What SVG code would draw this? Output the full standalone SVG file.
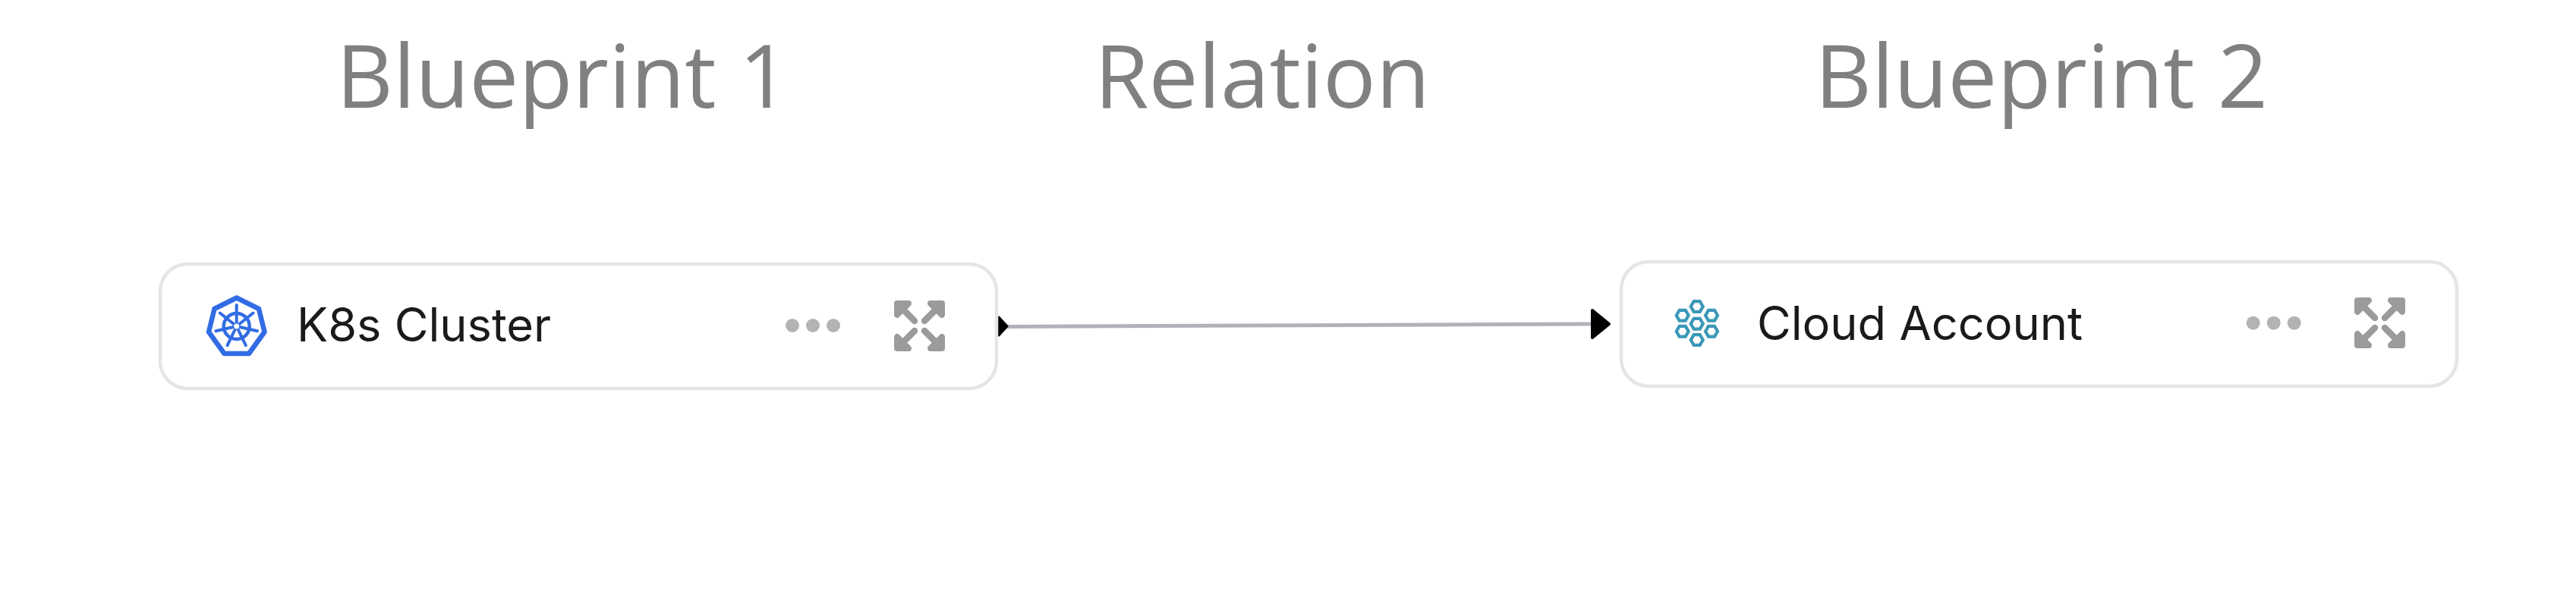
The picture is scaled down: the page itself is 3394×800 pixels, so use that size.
<svg xmlns="http://www.w3.org/2000/svg" xmlns:xlink="http://www.w3.org/1999/xlink" width="3394" height="800" viewBox="0 0 3394 800">
<style>
.title{font-family:"Open Sans","Noto Sans",sans-serif;font-size:116px;fill:#808080}
.label{font-family:Inter,"Liberation Sans",sans-serif;font-size:61.3px;font-weight:430;fill:#1a1a1a}
.box{fill:#fff;stroke:#e5e5e5;stroke-width:4.5}
.dot{fill:#b3b3b3}
.exp{fill:none;stroke:#9b9b9b;stroke-width:8.5;stroke-linecap:round}
.hex{fill:none;stroke:#3a98b8;stroke-width:4.2}
.k{fill:none;stroke:#326ce5;stroke-linecap:round}
</style>
<defs>
<g id="more"><circle cx="-27" r="9" class="dot"/><circle r="9" class="dot"/><circle cx="27" r="9" class="dot"/></g>
<g id="expand">
<path class="exp" d="M6 6L27 27M61 6L40 27M6 61L27 40M61 61L40 40"/>
<path d="M4 4H19L4 19ZM63 4H48L63 19ZM4 63H19L4 48ZM63 63H48L63 48Z" fill="#9b9b9b" stroke="#9b9b9b" stroke-width="8" stroke-linejoin="round"/>
</g>
<path id="h" class="hex" d="M-8 0L-4-6.9H4L8 0L4 6.9H-4Z"/>
</defs>
<rect width="3394" height="800" fill="#fff"/>
<text class="title" x="443" y="142">Blueprint 1</text>
<text class="title" x="1442" y="142">Relation</text>
<text class="title" x="2391" y="142">Blueprint 2</text>
<g id="connectors">
<path d="M1326 430.5L2098 427" fill="none" stroke="#b1b1b7" stroke-width="5"/>
<path d="M1316 418L1327 430L1316 442Z" fill="#000" stroke="#000" stroke-width="3" stroke-linejoin="round"/>
<path d="M2098 409L2120 427L2098 445Z" fill="#000" stroke="#000" stroke-width="4" stroke-linejoin="round"/>
</g>
<g id="node-k8s">
<rect class="box" x="211" y="348" width="1102" height="164" rx="36"/>
<path d="M311.7 392.5L341 407L348.5 437.5L328 466H295.5L275 437.5L282.5 407Z" fill="none" stroke="#326ce5" stroke-width="6.5" stroke-linejoin="round"/>
<g class="k">
<circle cx="311.7" cy="430" r="17" stroke-width="4.5"/>
<path stroke-width="4" d="M311.7 430V402M311.7 430L333.6 412.5M311.7 430L339 436.2M311.7 430L323.8 455.2M311.7 430L299.6 455.2M311.7 430L284.4 436.2M311.7 430L289.8 412.5"/>
</g>
<circle cx="311.7" cy="430" r="3.5" fill="#fff"/>
<text class="label" x="391" y="450">K8s Cluster</text>
<use href="#more" x="1071" y="429"/>
<use href="#expand" x="1178" y="396"/>
</g>
<g id="node-cloud">
<rect class="box" x="2136" y="345" width="1101" height="164" rx="36"/>
<use href="#h" x="2235.7" y="426.7"/>
<use href="#h" x="2235.7" y="404"/>
<use href="#h" x="2235.7" y="448"/>
<use href="#h" x="2216.7" y="415.7"/>
<use href="#h" x="2255" y="415.7"/>
<use href="#h" x="2216.7" y="436.7"/>
<use href="#h" x="2255" y="436.7"/>
<text class="label" x="2315" y="448">Cloud Account</text>
<use href="#more" x="2995.7" y="425.7"/>
<use href="#expand" x="3102" y="392"/>
</g>
</svg>
